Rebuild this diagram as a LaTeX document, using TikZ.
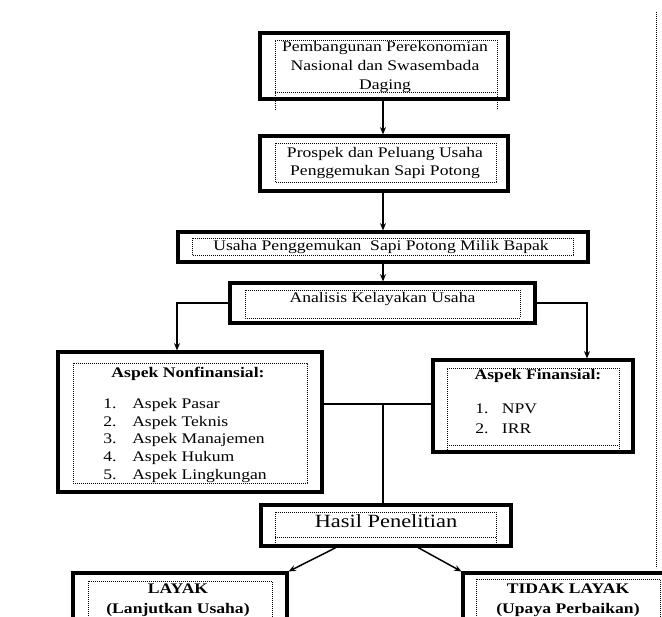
\documentclass[tikz,border=0pt]{standalone}
\usepackage{fontspec}
\setmainfont{Liberation Serif}[FakeStretch=1.2]
\usetikzlibrary{arrows.meta,fit}
\begin{document}
\begin{tikzpicture}[x=0.75pt,y=-0.75pt,
  obox/.style={draw, line width=2.3pt, inner sep=0pt},
  dbox/.style={line width=0.7pt, dash pattern=on 0.7pt off 0.8pt},
  ln/.style={line width=1.1pt},
  arr/.style={line width=1.1pt, -{Stealth[length=5.5pt,width=4.5pt]}},
  txt/.style={font=\fontsize{11}{13.9}\selectfont, inner sep=0pt, align=center},
  btxt/.style={font=\fontsize{11}{15}\selectfont\bfseries, inner sep=0pt, align=center},
  ltxt/.style={font=\fontsize{11}{13.3}\selectfont, inner sep=0pt, align=left, anchor=north west},
]
\clip (0,0) rectangle (662,617);
\fill[white] (0,0) rectangle (662,617);

% boxes
\node[obox, fit={(260,33) (508,99)}] (b1) {};
\node[obox, fit={(260,136) (508,191)}] (b2) {};
\node[obox, fit={(178,232) (588,262)}] (b3) {};
\node[obox, fit={(230,283) (535,323)}] (b4) {};
\node[obox, fit={(58,352) (322,492)}] (b5) {};
\node[obox, fit={(433,360) (633,452)}] (b6) {};
\node[obox, fit={(261,505) (511,546)}] (b7) {};
\node[obox, fit={(73,573) (287,640)}] (b8) {};
\node[obox, fit={(463,573) (690,640)}] (b9) {};

% inner dotted frames
\draw[dbox] (275,110) -- (275,40) -- (497,40) -- (497,110);
\draw[dbox] (275,92) -- (497,92);
\draw[dbox] (275,143) rectangle (496,182);
\draw[dbox] (192,238) rectangle (573,255);
\draw[dbox] (245,290) rectangle (520,318);
\draw[dbox] (73,363) rectangle (307,483);
\draw[dbox] (447,450) -- (447,368) -- (619,368) -- (619,450);
\draw[dbox] (447,445) -- (619,445);
\draw[dbox] (275,547) -- (275,512) -- (496,512) -- (496,547);
\draw[dbox] (275,537) -- (496,537);
\draw[dbox] (88,640) -- (88,581) -- (272,581) -- (272,640);
\draw[dbox] (476,640) -- (476,579) -- (660,579) -- (660,640);
\draw[dbox] (656,12) -- (656,568);

% texts
\node[txt] (t1) at (385,67) {Pembangunan Perekonomian\\Nasional dan Swasembada\\Daging};
\node[txt] (t2) at (385,163) {Prospek dan Peluang Usaha\\Penggemukan Sapi Potong};
\node[txt] (t3) at (381,246.5) {Usaha Penggemukan~ Sapi Potong Milik Bapak};
\node[txt] (t4) at (382.5,298.5) {Analisis Kelayakan Usaha};
\node[btxt] (t5h) at (188,373.5) {Aspek Nonfinansial:};
\node[ltxt] (t5) at (103,398) {\makebox[21.75pt][l]{1.}Aspek Pasar\\
  \makebox[21.75pt][l]{2.}Aspek Teknis\\
  \makebox[21.75pt][l]{3.}Aspek Manajemen\\
  \makebox[21.75pt][l]{4.}Aspek Hukum\\
  \makebox[21.75pt][l]{5.}Aspek Lingkungan};
\node[btxt] (t6h) at (538,375.5) {Aspek Finansial:};
\node[ltxt, font=\fontsize{11}{15}\selectfont] (t6) at (475,404) {\makebox[20pt][l]{1.}NPV\\
  \makebox[20pt][l]{2.}IRR};
\node[inner sep=0pt, font=\fontsize{14}{16}\selectfont] (t7) at (386,521) {Hasil Penelitian};
\node[btxt] (t8) at (178,600) {LAYAK\\(Lanjutkan Usaha)};
\node[btxt] (t9) at (568,600) {TIDAK LAYAK\\(Upaya Perbaikan)};

% connectors
\coordinate (v) at (383,0);
\draw[arr] (v |- b1.south) -- (v |- b2.north);
\draw[arr] (v |- b2.south) -- (v |- b3.north);
\draw[arr] (v |- b3.south) -- (v |- b4.north);
\draw[arr] (b4.west) -| ([shift={(-13,0)}]b5.north);
\draw[arr] (b4.east) -| ([shift={(54,0)}]b6.north);
\coordinate (m) at (383,404);
\draw[ln] (b5.east |- m) -- (b6.west |- m);
\draw[ln] (m) -- (m |- b7.north);
\draw[arr] ([shift={(-50,0)}]b7.south) -- (b8.north east);
\draw[arr] ([shift={(32,0)}]b7.south) -- (b9.north west);
\end{tikzpicture}
\end{document}
